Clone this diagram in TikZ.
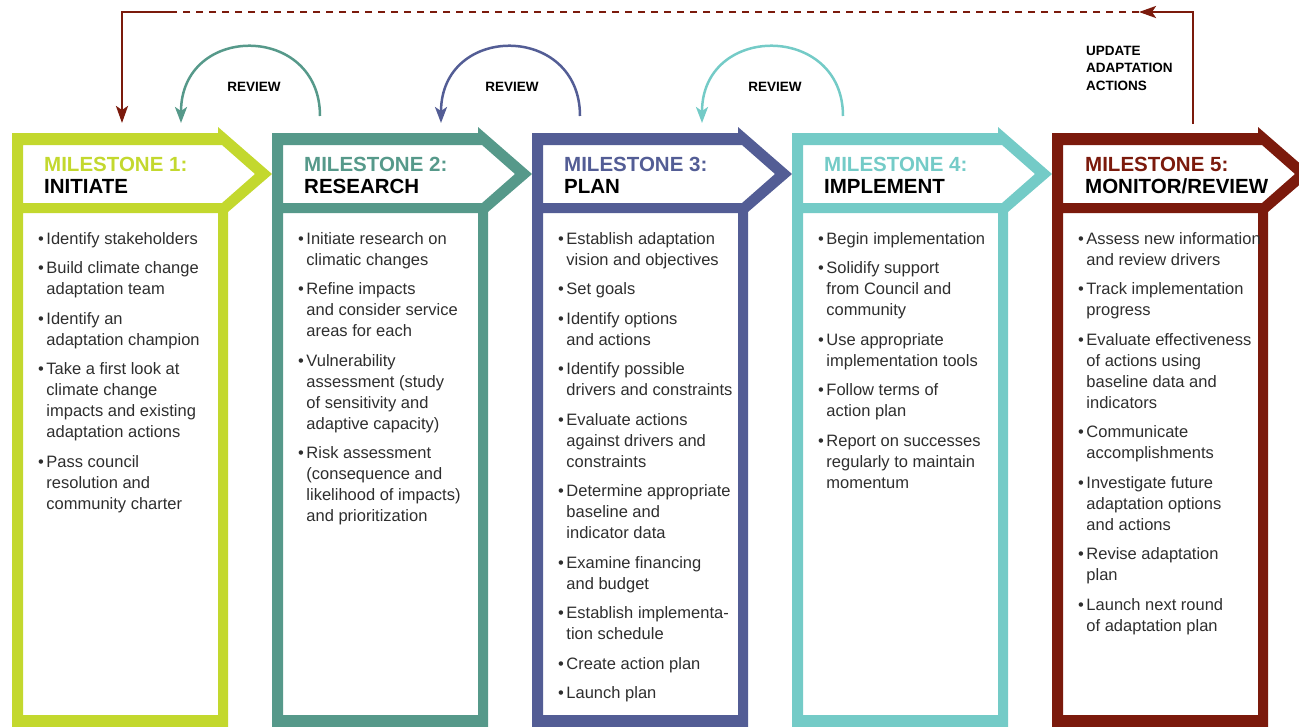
\documentclass[tikz,border=0pt]{standalone}
\usepackage{fontspec}
\setmainfont{Liberation Sans}
\usepackage{tikz}
\usetikzlibrary{arrows.meta}
\definecolor{msone}{HTML}{C3D82E}
\definecolor{mstwo}{HTML}{56998A}
\definecolor{msthree}{HTML}{535D95}
\definecolor{msfour}{HTML}{74CBC7}
\definecolor{msfive}{HTML}{7B1A0C}
\definecolor{bodygrey}{HTML}{2E2E2E}
% frame of one milestone: arrow header and tall box, left edge at #1
\newcommand{\msframe}[2]{%
  \fill[#2, even odd rule, shift={(#1,0)}]
    (0,133) -- (206,133) -- (206,127) -- (260,174) -- (216,212) -- (216,730) -- (0,730) -- cycle
    (11,145) -- (210,145) -- (243,174) -- (210,203) -- (11,203) -- cycle
    (11,213) -- (206,213) -- (206,715) -- (11,715) -- cycle;}

\begin{document}
\begin{tikzpicture}[x=1pt, y=-1pt,
    mstitle/.style={anchor=base west, inner sep=0pt, font=\fontsize{20.5}{22}\selectfont\bfseries},
    msitems/.style={anchor=north west, inner sep=0pt, font=\fontsize{16.5}{21}\selectfont, text=bodygrey},
    toplabel/.style={inner sep=0pt, font=\fontsize{13.5}{17.3}\selectfont\bfseries, text=black},
    reviewarc/.style={line width=2.5pt, -{Stealth[length=16pt, width=12pt, inset=4pt]}},
    returnline/.style={msfive, line width=2.6pt}]
    \useasboundingbox (0,0) rectangle (1299,726);

    % Milestone 1
    \msframe{12}{msone}
    \node[mstitle, text=msone] (m1a) at (44,171) {MILESTONE 1:};
    \node[mstitle] (m1b) at (44,193) {INITIATE};
    \node[msitems] (m1list) at (38,229.3) {\begin{tabular}{@{}l@{\hspace{2.5pt}}l@{}}
        \textbullet & Identify stakeholders\\[8.5pt]
        \textbullet & Build climate change\\
                    & adaptation team\\[8.5pt]
        \textbullet & Identify an\\
                    & adaptation champion\\[8.5pt]
        \textbullet & Take a first look at\\
                    & climate change\\
                    & impacts and existing\\
                    & adaptation actions\\[8.5pt]
        \textbullet & Pass council\\
                    & resolution and\\
                    & community charter
    \end{tabular}};

    % Milestone 2
    \msframe{272}{mstwo}
    \node[mstitle, text=mstwo] (m2a) at (304,171) {MILESTONE 2:};
    \node[mstitle] (m2b) at (304,193) {RESEARCH};
    \node[msitems] (m2list) at (298,229.3) {\begin{tabular}{@{}l@{\hspace{2.5pt}}l@{}}
        \textbullet & Initiate research on\\
                    & climatic changes\\[8.5pt]
        \textbullet & Refine impacts\\
                    & and consider service\\
                    & areas for each\\[8.5pt]
        \textbullet & Vulnerability\\
                    & assessment (study\\
                    & of sensitivity and\\
                    & adaptive capacity)\\[8.5pt]
        \textbullet & Risk assessment\\
                    & (consequence and\\
                    & likelihood of impacts)\\
                    & and prioritization
    \end{tabular}};

    % Milestone 3
    \msframe{532}{msthree}
    \node[mstitle, text=msthree] (m3a) at (564,171) {MILESTONE 3:};
    \node[mstitle] (m3b) at (564,193) {PLAN};
    \node[msitems] (m3list) at (558,229.3) {\begin{tabular}{@{}l@{\hspace{2.5pt}}l@{}}
        \textbullet & Establish adaptation\\
                    & vision and objectives\\[8.5pt]
        \textbullet & Set goals\\[8.5pt]
        \textbullet & Identify options\\
                    & and actions\\[8.5pt]
        \textbullet & Identify possible\\
                    & drivers and constraints\\[8.5pt]
        \textbullet & Evaluate actions\\
                    & against drivers and\\
                    & constraints\\[8.5pt]
        \textbullet & Determine appropriate\\
                    & baseline and\\
                    & indicator data\\[8.5pt]
        \textbullet & Examine financing\\
                    & and budget\\[8.5pt]
        \textbullet & Establish implementa-\\
                    & tion schedule\\[8.5pt]
        \textbullet & Create action plan\\[8.5pt]
        \textbullet & Launch plan
    \end{tabular}};

    % Milestone 4
    \msframe{792}{msfour}
    \node[mstitle, text=msfour] (m4a) at (824,171) {MILESTONE 4:};
    \node[mstitle] (m4b) at (824,193) {IMPLEMENT};
    \node[msitems] (m4list) at (818,229.3) {\begin{tabular}{@{}l@{\hspace{2.5pt}}l@{}}
        \textbullet & Begin implementation\\[8.5pt]
        \textbullet & Solidify support\\
                    & from Council and\\
                    & community\\[8.5pt]
        \textbullet & Use appropriate\\
                    & implementation tools\\[8.5pt]
        \textbullet & Follow terms of\\
                    & action plan\\[8.5pt]
        \textbullet & Report on successes\\
                    & regularly to maintain\\
                    & momentum
    \end{tabular}};

    % Milestone 5
    \msframe{1052}{msfive}
    \node[mstitle, text=msfive] (m5a) at (1085,171) {MILESTONE 5:};
    \node[mstitle] (m5b) at (1085,193) {MONITOR/REVIEW};
    \node[msitems] (m5list) at (1078,229.3) {\begin{tabular}{@{}l@{\hspace{2.5pt}}l@{}}
        \textbullet & Assess new information\\
                    & and review drivers\\[8.5pt]
        \textbullet & Track implementation\\
                    & progress\\[8.5pt]
        \textbullet & Evaluate effectiveness\\
                    & of actions using\\
                    & baseline data and\\
                    & indicators\\[8.5pt]
        \textbullet & Communicate\\
                    & accomplishments\\[8.5pt]
        \textbullet & Investigate future\\
                    & adaptation options\\
                    & and actions\\[8.5pt]
        \textbullet & Revise adaptation\\
                    & plan\\[8.5pt]
        \textbullet & Launch next round\\
                    & of adaptation plan
    \end{tabular}};

    % Review loops
    \coordinate (r1s) at (320,116);
    \coordinate (r1e) at (181,123);
    \draw[reviewarc, mstwo] (r1s) .. controls (320,23) and (181,23) .. (r1e);
    \node[toplabel] (rev1) at (254,87) {REVIEW};
    \coordinate (r2s) at (580,116);
    \coordinate (r2e) at (441,123);
    \draw[reviewarc, msthree] (r2s) .. controls (580,23) and (441,23) .. (r2e);
    \node[toplabel] (rev2) at (512,87) {REVIEW};
    \coordinate (r3s) at (843,116);
    \coordinate (r3e) at (702,123);
    \draw[reviewarc, msfour] (r3s) .. controls (843,23) and (702,23) .. (r3e);
    \node[toplabel] (rev3) at (775,87) {REVIEW};

    % Update adaptation actions, back to milestone 1
    \node[toplabel, anchor=north west, align=left] (upd) at (1086,46) {UPDATE\\ADAPTATION\\ACTIONS};
    \coordinate (u0) at (1193,124);
    \coordinate (u1) at (1193,12);
    \coordinate (u2) at (1139,12);
    \coordinate (u3) at (175,12);
    \coordinate (u4) at (122,12);
    \coordinate (u5) at (122,123);
    \draw[returnline, -{Stealth[length=17pt, width=12pt, inset=4pt]}] (u0) -- (u1) -- (u2);
    \draw[returnline, line width=1.5pt, dash pattern=on 7pt off 6pt] (u2) -- (u3);
    \draw[returnline, -{Stealth[length=17pt, width=12pt, inset=4pt]}] (u3) -- (u4) -- (u5);
\end{tikzpicture}
\end{document}
